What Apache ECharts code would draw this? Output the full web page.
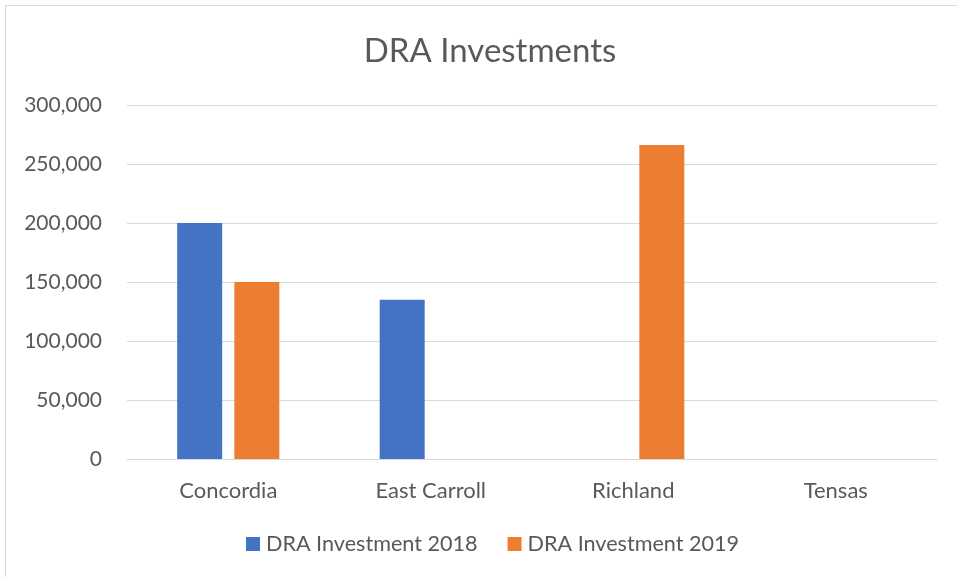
<!DOCTYPE html>
<html>
<head>
<meta charset="utf-8">
<script src="https://cdn.jsdelivr.net/npm/echarts@6/dist/echarts.min.js"></script>
<style>
  html, body { margin: 0; padding: 0; background: #ffffff; }
  #frame { position: absolute; left: 5px; top: 5px; width: 980px; height: 600px; border: 1px solid #d9d9d9; box-sizing: border-box; }
  #chart { position: absolute; left: 0; top: 0; width: 957px; height: 577px; }
</style>
</head>
<body>
<div id="frame"></div>
<div id="chart"></div>
<script>
// Parishes and yearly investment amounts
const parishes = ['Concordia', 'East Carroll', 'Richland', 'Tensas'];
const invest2018 = [200000, 135000, 0, 0];
const invest2019 = [150000, 0, 266000, 0];
const seriesNames = ['DRA Investment 2018', 'DRA Investment 2019'];

const FONT = 'Lato, "Open Sans", sans-serif';
const TXT = '#595959';

const chart = echarts.init(document.getElementById('chart'), null, { renderer: 'canvas' });
chart.setOption({
  animation: false,
  title: {
    text: 'DRA Investments',
    left: 485, top: 30, textAlign: 'center',
    textStyle: { fontFamily: FONT, fontSize: 33, fontWeight: 'normal', color: TXT }
  },
  grid: { left: 127, right: 20, top: 105, bottom: 118, containLabel: false },
  legend: {
    data: seriesNames,
    left: 241, top: 528,
    itemWidth: 14, itemHeight: 14, itemGap: 30,
    icon: 'rect',
    textStyle: { fontFamily: FONT, fontSize: 21.6, color: TXT, padding: [0, 0, 0, 1] }
  },
  xAxis: {
    type: 'category',
    data: parishes,
    axisTick: { show: false },
    axisLine: { lineStyle: { color: '#d9d9d9', width: 1 } },
    axisLabel: { fontFamily: FONT, fontSize: 22, color: TXT, margin: 21 }
  },
  yAxis: {
    type: 'value',
    min: 0, max: 300000, interval: 50000,
    axisLine: { show: false },
    axisTick: { show: false },
    splitLine: { lineStyle: { color: '#d9d9d9', width: 1 } },
    axisLabel: {
      fontFamily: FONT, fontSize: 21, color: TXT, margin: 25,
      formatter: v => v.toLocaleString('en-US')
    }
  },
  series: [
    { name: seriesNames[0], type: 'bar', data: invest2018, barWidth: 45, barGap: '27%', itemStyle: { color: '#4472c4' } },
    { name: seriesNames[1], type: 'bar', data: invest2019, barWidth: 45, barGap: '27%', itemStyle: { color: '#ed7d31' } }
  ]
});
</script>
</body>
</html>
